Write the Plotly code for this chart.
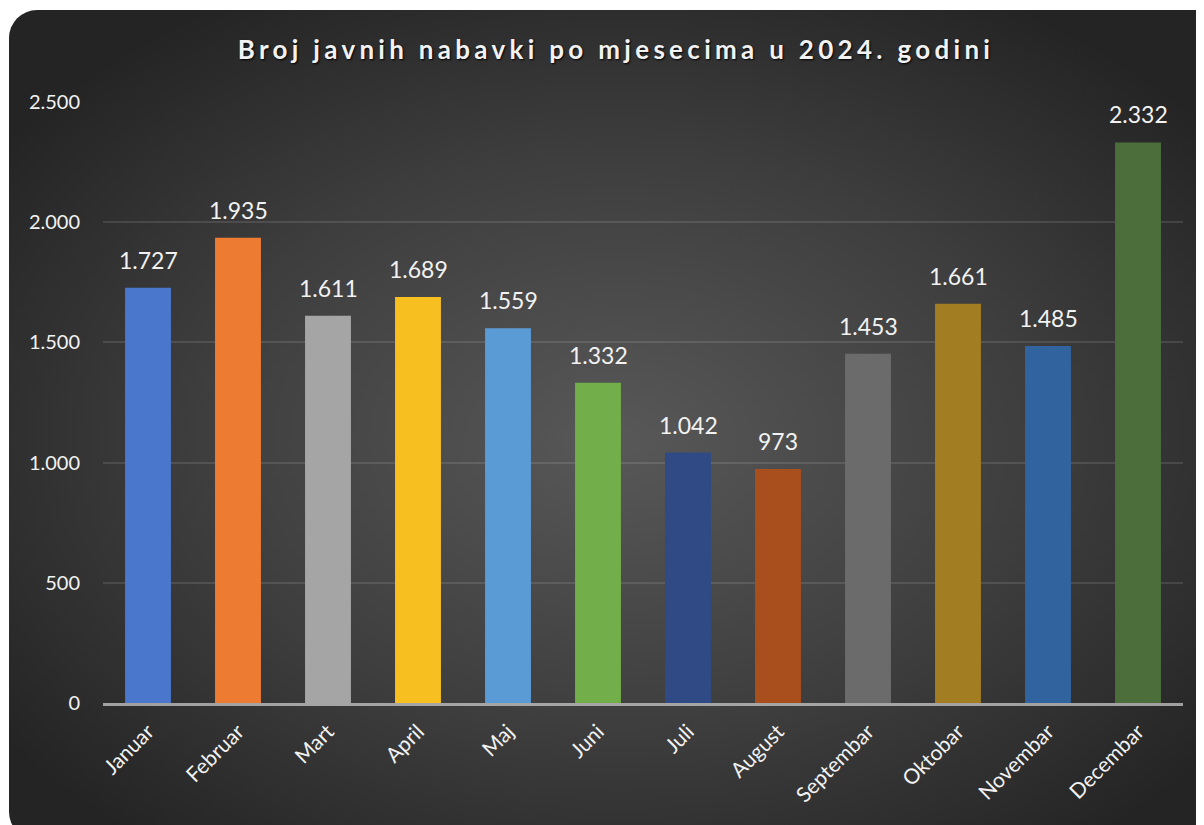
import base64
import plotly.graph_objects as go

months = ["Januar", "Februar", "Mart", "April", "Maj", "Juni", "Juli", "August",
          "Septembar", "Oktobar", "Novembar", "Decembar"]
counts = [1727, 1935, 1611, 1689, 1559, 1332, 1042, 973, 1453, 1661, 1485, 2332]
bar_colors = ["#4a77cc", "#ee7b32", "#a5a5a5", "#f7c020", "#5b9bd5", "#72ae4a",
              "#304a85", "#a94f1e", "#6b6b6b", "#a27d22", "#31649e", "#4b6e3a"]
tick_vals = [0, 500, 1000, 1500, 2000, 2500]
tick_text = ["0", "500", "1.000", "1.500", "2.000", "2.500"]
title_text = "Broj javnih nabavki po mjesecima u 2024. godini"

W, H = 1204, 825
OFF = 8  # page body margin
ML, MR, MT, MB = 103 - OFF, 21 + OFF, 102 - OFF, 122 + OFF
PW, PH = W - ML - MR, H - MT - MB

svg = f"""<svg xmlns='http://www.w3.org/2000/svg' width='{W}' height='{H}' viewBox='0 0 {W} {H}'>
<defs><radialGradient id='g' cx='50%' cy='52%' r='62%'>
<stop offset='0' stop-color='#585858'/><stop offset='0.55' stop-color='#3e3e3e'/><stop offset='1' stop-color='#242424'/>
</radialGradient></defs>
<rect x='{9 - OFF}' y='{10 - OFF}' width='1215' height='830' rx='28' ry='28' fill='url(#g)'/>
</svg>"""
src = "data:image/svg+xml;base64," + base64.b64encode(svg.encode()).decode()

font = "Lato, 'Open Sans', sans-serif"

fig = go.Figure()
fig.add_trace(go.Bar(
    x=months, y=counts,
    marker=dict(color=bar_colors, line=dict(width=0)),
    width=0.51,
    hoverinfo="x+y",
))

for m, v in zip(months, counts):
    fig.add_annotation(
        x=m, y=v, text=f"{v:,}".replace(",", "."),
        showarrow=False, yanchor="bottom", yshift=12,
        font=dict(family=font, size=23, color="#f2f2f2"),
    )

fig.update_layout(
    width=W, height=H,
    margin=dict(l=ML, r=MR, t=MT, b=MB),
    paper_bgcolor="white",
    plot_bgcolor="rgba(0,0,0,0)",
    separators=",.",
    showlegend=False,
    bargap=0.49,
    title=dict(
        text=f"<span style='letter-spacing:4.3px'><b>{title_text}</b></span>",
        x=0.505, xanchor="center", y=1 - (50 - OFF) / H, yanchor="middle",
        font=dict(family=font, size=26, color="#f2f2f2", shadow="1px 1px 2px #000"),
    ),
    images=[dict(
        source=src, xref="paper", yref="paper",
        x=-ML / PW, y=1 + MT / PH, sizex=W / PW, sizey=H / PH,
        xanchor="left", yanchor="top", sizing="stretch", layer="below",
    )],
    xaxis=dict(
        tickangle=-45, tickfont=dict(family=font, size=21, color="#f2f2f2"),
        showgrid=False, showline=True, linecolor="rgba(200,200,200,0.75)", linewidth=3,
        ticks="", ticklabelstandoff=5, range=[-0.5, 11.5],
    ),
    yaxis=dict(
        range=[0, 2500], tickvals=tick_vals, ticktext=tick_text,
        tickfont=dict(family=font, size=20, color="#f2f2f2"),
        showgrid=True, gridcolor="rgba(255,255,255,0.11)", gridwidth=1.5,
        zeroline=False, showline=False, ticks="", ticklabelstandoff=22,
    ),
)

fig.write_html("out.html")
